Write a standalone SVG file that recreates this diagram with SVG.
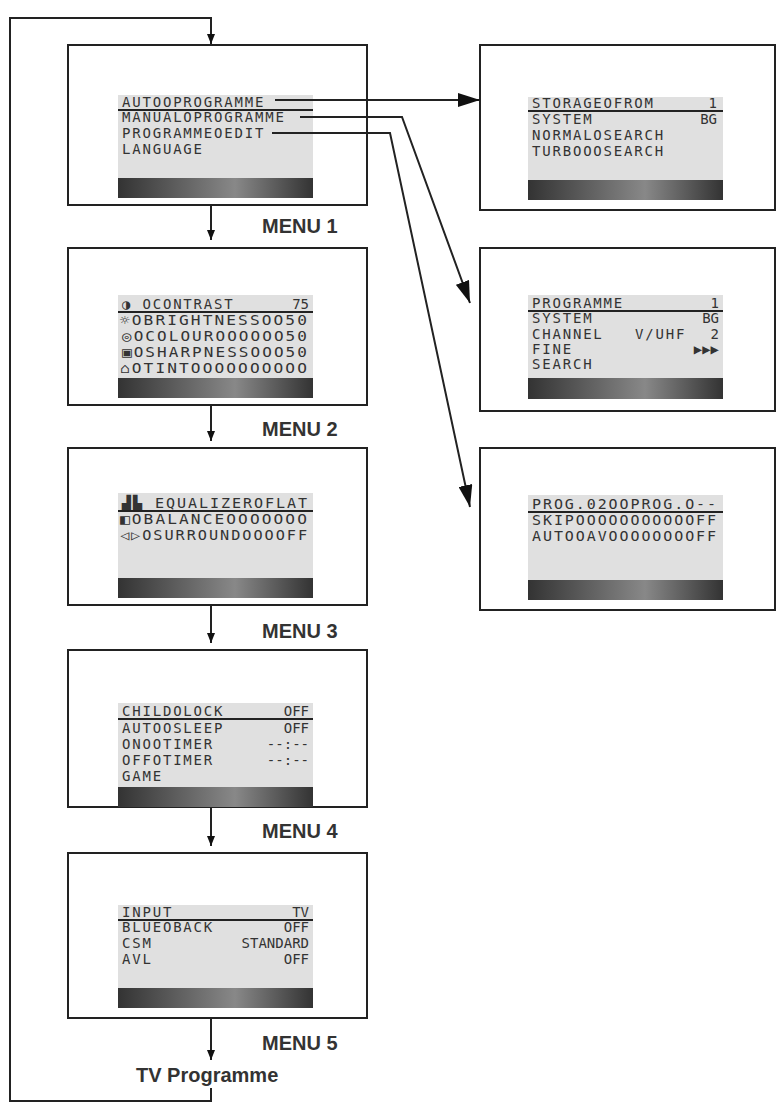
<svg xmlns="http://www.w3.org/2000/svg" width="782" height="1107" viewBox="0 0 782 1107">
<style>
.box{fill:#fff;stroke:#222;stroke-width:2}
.scr{fill:#e0e0e0}
.t{font-family:"DejaVu Sans Mono",monospace;font-size:14px;letter-spacing:1.8px;fill:#333}
.r{text-anchor:end;letter-spacing:0}
.lb{font-family:"Liberation Sans",Arial,sans-serif;font-size:20px;font-weight:bold;fill:#333}
.ln{stroke:#222;stroke-width:2;fill:none}
.ul{stroke:#222;stroke-width:1.8}
</style>
<defs>
<linearGradient id="g" x1="0" x2="1"><stop offset="0" stop-color="#333"/><stop offset="0.6" stop-color="#888"/><stop offset="1" stop-color="#333"/></linearGradient>
<marker id="a" markerWidth="10" markerHeight="8" refX="10" refY="4" orient="auto" markerUnits="userSpaceOnUse"><path d="M0,0L10,4L0,8z" fill="#111"/></marker>
<marker id="b" markerWidth="22" markerHeight="14" refX="22" refY="7" orient="auto" markerUnits="userSpaceOnUse"><path d="M0,0L22,7L0,14z" fill="#111"/></marker>
</defs>
<g id="menu1"><rect class="box" x="68" y="45" width="299" height="160"/><rect class="scr" x="118" y="95" width="195" height="103"/><rect x="118" y="178" width="195" height="20" fill="url(#g)"/>
<text class="t" x="122" y="107">AUTOOPROGRAMME</text><line class="ul" x1="118" y1="110" x2="313" y2="110"/><text class="t" x="122" y="122">MANUALOPROGRAMME</text><text class="t" x="122" y="138">PROGRAMMEOEDIT</text><text class="t" x="122" y="154">LANGUAGE</text>
<text class="lb" x="262" y="233">MENU 1</text></g>
<g id="menu2"><rect class="box" x="68" y="248" width="299" height="157"/><rect class="scr" x="118" y="295" width="195" height="103"/><rect x="118" y="378" width="195" height="20" fill="url(#g)"/>
<text class="t" x="122" y="309">◑ OCONTRAST</text><text class="t r" x="309" y="309">75</text><line class="ul" x1="118" y1="312" x2="313" y2="312"/>
<text class="t" x="120" y="325" textLength="189" lengthAdjust="spacingAndGlyphs">☼OBRIGHTNESSOO50</text><text class="t" x="122" y="341" textLength="187" lengthAdjust="spacingAndGlyphs">◎OCOLOUROOOOOO50</text><text class="t" x="122" y="357" textLength="187" lengthAdjust="spacingAndGlyphs">▣OSHARPNESSOOO50</text><text class="t" x="120" y="373" textLength="189" lengthAdjust="spacingAndGlyphs">⌂OTINTOOOOOOOOOO</text>
<text class="lb" x="262" y="436">MENU 2</text></g>
<g id="menu3"><rect class="box" x="68" y="448" width="299" height="157"/><rect class="scr" x="118" y="493" width="195" height="105"/><rect x="118" y="578" width="195" height="20" fill="url(#g)"/>
<text class="t" x="122" y="508" textLength="187" lengthAdjust="spacingAndGlyphs">▟▙ EQUALIZEROFLAT</text><line class="ul" x1="118" y1="511" x2="313" y2="511"/><text class="t" x="120" y="524" textLength="189" lengthAdjust="spacingAndGlyphs">◧OBALANCEOOOOOOO</text><text class="t" x="120" y="540" textLength="189" lengthAdjust="spacingAndGlyphs">◁▷OSURROUNDOOOOFF</text>
<text class="lb" x="262" y="638">MENU 3</text></g>
<g id="menu4"><rect class="box" x="68" y="650" width="299" height="157"/><rect class="scr" x="118" y="703" width="195" height="104"/><rect x="118" y="787" width="195" height="20" fill="url(#g)"/>
<text class="t" x="122" y="716">CHILDOLOCK</text><text class="t r" x="309" y="716">OFF</text><line class="ul" x1="118" y1="719" x2="313" y2="719"/>
<text class="t" x="122" y="733">AUTOOSLEEP</text><text class="t r" x="309" y="733">OFF</text>
<text class="t" x="122" y="749">ONOOTIMER</text><text class="t r" x="309" y="749">--:--</text>
<text class="t" x="122" y="765">OFFOTIMER</text><text class="t r" x="309" y="765">--:--</text>
<text class="t" x="122" y="781">GAME</text>
<text class="lb" x="262" y="838">MENU 4</text></g>
<g id="menu5"><rect class="box" x="68" y="853" width="299" height="165"/><rect class="scr" x="118" y="905" width="195" height="103"/><rect x="118" y="988" width="195" height="20" fill="url(#g)"/>
<text class="t" x="122" y="917">INPUT</text><text class="t r" x="309" y="917">TV</text><line class="ul" x1="118" y1="920" x2="313" y2="920"/>
<text class="t" x="122" y="932">BLUEOBACK</text><text class="t r" x="309" y="932">OFF</text>
<text class="t" x="122" y="948">CSM</text><text class="t r" x="309" y="948">STANDARD</text>
<text class="t" x="122" y="964">AVL</text><text class="t r" x="309" y="964">OFF</text>
<text class="lb" x="262" y="1050">MENU 5</text></g>
<g id="tv"><text class="lb" x="136" y="1082">TV Programme</text></g>
<g id="auto"><rect class="box" x="480" y="45" width="295" height="165"/><rect class="scr" x="528" y="97" width="195" height="103"/><rect x="528" y="180" width="195" height="20" fill="url(#g)"/>
<text class="t" x="532" y="108">STORAGEOFROM</text><text class="t r" x="717" y="108">1</text><line class="ul" x1="528" y1="111" x2="723" y2="111"/>
<text class="t" x="532" y="124">SYSTEM</text><text class="t r" x="717" y="124">BG</text><text class="t" x="532" y="140">NORMALOSEARCH</text><text class="t" x="532" y="156">TURBOOOSEARCH</text></g>
<g id="manual"><rect class="box" x="480" y="248" width="295" height="163"/><rect class="scr" x="528" y="295" width="195" height="104"/><rect x="528" y="378" width="195" height="21" fill="url(#g)"/>
<text class="t" x="532" y="308">PROGRAMME</text><text class="t r" x="719" y="308">1</text><line class="ul" x1="528" y1="311" x2="723" y2="311"/>
<text class="t" x="532" y="323">SYSTEM</text><text class="t r" x="719" y="323">BG</text>
<text class="t" x="532" y="339">CHANNEL</text><text class="t" x="635" y="339">V/UHF</text><text class="t r" x="719" y="339">2</text>
<text class="t" x="532" y="354">FINE</text><text class="t r" x="719" y="354" font-size="10">▶▶▶</text><text class="t" x="532" y="369">SEARCH</text></g>
<g id="edit"><rect class="box" x="480" y="448" width="295" height="162"/><rect class="scr" x="528" y="495" width="195" height="105"/><rect x="528" y="580" width="195" height="20" fill="url(#g)"/>
<text class="t" x="532" y="509" fill="#555" textLength="186" lengthAdjust="spacingAndGlyphs">PROG.02OOPROG.O--</text><line class="ul" x1="528" y1="512" x2="723" y2="512"/><text class="t" x="532" y="525" fill="#666" textLength="186" lengthAdjust="spacingAndGlyphs">SKIPOOOOOOOOOOOFF</text><text class="t" x="532" y="541" fill="#666" textLength="186" lengthAdjust="spacingAndGlyphs">AUTOOAVOOOOOOOOFF</text></g>
<g id="connectors">
<path class="ln" d="M211,205V240" marker-end="url(#a)"/>
<path class="ln" d="M211,405V441" marker-end="url(#a)"/>
<path class="ln" d="M211,605V643" marker-end="url(#a)"/>
<path class="ln" d="M211,807V846" marker-end="url(#a)"/>
<path class="ln" d="M211,1018V1060" marker-end="url(#a)"/>
<path class="ln" d="M211,1088V1101H10V18H211V44" marker-end="url(#a)"/>
<path class="ln" d="M275,100H480" marker-end="url(#b)"/>
<path class="ln" d="M300,117H402L470,303" marker-end="url(#b)"/>
<path class="ln" d="M272,133H390L470,507" marker-end="url(#b)"/>
</g>
</svg>
